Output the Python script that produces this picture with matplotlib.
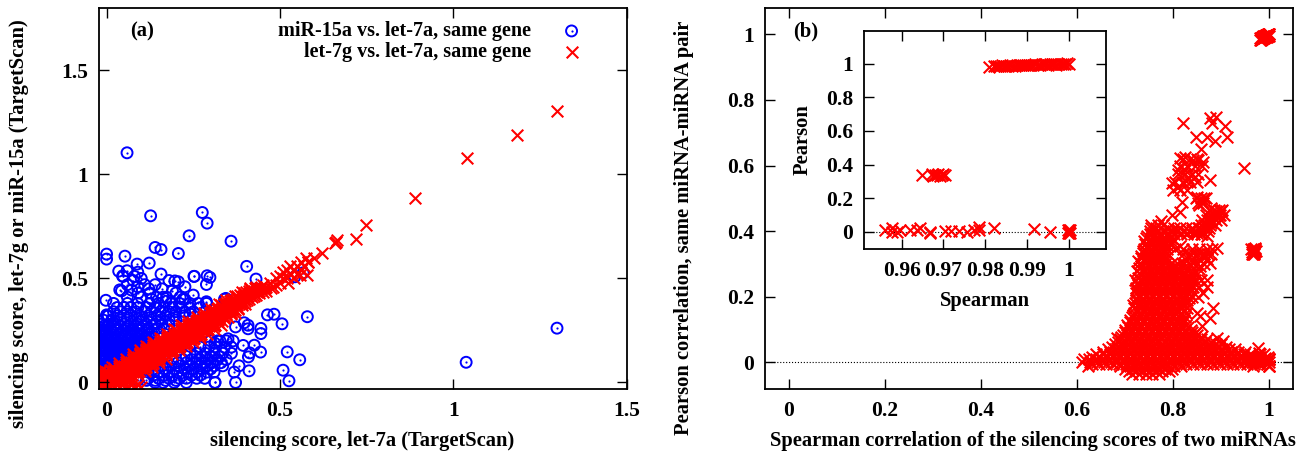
import matplotlib
matplotlib.use('Agg')
import matplotlib.pyplot as plt
from matplotlib.legend_handler import HandlerTuple

W, H = 1308, 454

# panel (a), blue: isolated circles
blue_x = [.059,.127,.276,.290,.238,.359,.140,.157,.207,.053,0,0,.404,.088,.123,.035,.059,.046,.157,.253,.29,.298,.288,.431,
          .464,.483,.506,.579,.521,.557,.509,.526,.411,.372,.313,.368,.382,.444,.409,.413,.426,.394,.445,.445,.408,.408,.397,.372,
          .567,.543,.344,.288,1.037,1.299,.18,.197,.207,.226,.252,.043,.038,.072,.122,.091,.144,.163,.173,.125,.226,.212,.25,.264,.288,-.002,0,.005,
          .08,.1,.048,.077,.09,.312,.327,.35,.34,.24,.27,
          .06,.09,.11,.14,.16,.19,.06,.1,.13,.17,.2,.22]
blue_y = [1.104,.801,.817,.766,.705,.679,.649,.639,.62,.607,.617,.593,.558,.569,.574,.535,.537,.511,.521,.51,.513,.505,.471,.497,
          .325,.328,.282,.316,.147,.109,.059,.008,.056,0,0,.05,.08,.146,.123,.142,.179,.178,.235,.26,.258,.275,.287,.267,
          .527,.508,.404,.388,.097,.261,.49,.488,.484,.46,.51,.44,.445,.444,.45,.43,.41,.41,.41,.43,.40,.41,.42,.38,.38,.395,.325,.32,
          .51,.5,.51,.49,.53,.189,.2,.21,.4,.33,.36,
          .47,.46,.47,.47,.45,.44,.41,.41,.40,.39,.43,.4]

# panel (a), blue: crowded part, one row per y level
blue_rows = [
    (.38, [.02,.06,.09,.125,.15,.185,.21,.24]),
    (.36, [.03,.05,.07,.09,.115,.14,.165,.19,.215,.24]),
    (.34, [.02,.04,.06,.085,.11,.13,.155,.18,.2,.225,.25]),
    (.32, [0,.03,.05,.07,.095,.12,.145,.17,.195,.22]),
    (.30, [-.01,.015,.04,.06,.085,.105,.13,.155,.18,.2]),
    (.28, [-.015,.005,.025,.05,.07,.09,.115,.14,.16,.18]),
    (.26, [-.015,.01,.03,.055,.075,.1,.12,.145,.165]),
    (.24, [-.02,0,.02,.04,.065,.085,.11,.13,.15]),
    (.22, [-.015,.01,.03,.05,.075,.095,.115,.135]),
    (.20, [-.02,0,.02,.04,.06,.08,.1,.12]),
    (.18, [-.015,.005,.025,.045,.065,.085,.105]),
    (.16, [-.02,0,.02,.04,.06,.08,.1]),
    (.14, [-.015,.005,.025,.045,.065,.085]),
    (.12, [-.02,0,.02,.04,.06,.08]),
    (.10, [-.015,.005,.025,.045]),
    (.08, [-.02,0,.02,.04]),
    # in-between rows, where the circles merge into a solid patch
    (.27, [-.01,.005,.02,.04,.065,.085,.105]),
    (.25, [-.02,-.005,.015,.03,.05,.07,.095,.115]),
    (.23, [-.02,-.005,.015,.035,.055,.07,.09,.105,.125]),
    (.21, [-.015,.005,.025,.045,.07,.09,.11]),
    (.19, [-.02,-.005,.015,.035,.055,.075,.095]),
    (.17, [-.015,.01,.03,.05,.07,.09]),
    (.15, [-.02,-.005,.015,.035,.055,.075]),
    (.13, [-.015,.01,.03,.05,.07]),
    (.11, [-.02,-.005,.015,.035,.055]),
    (.09, [-.015,.005,.025,.045]),
    (.07, [-.02,0,.02]),
    (.05, [.12,.15,.18,.205,.235,.26,.29,.31]),
    (.02, [.12,.15,.18,.21,.23,.26,.283]),
    (0, [.14,.163,.195,.23,.312]),
    (.08, [.16,.185,.21,.24,.27,.29,.31,.335]),
    (.11, [.19,.22,.245,.27,.295,.32,.345]),
    (.14, [.24,.26,.285,.31,.335,.36]),
    (.17, [.27,.295,.315,.34,.36]),
    (.20, [.30,.32,.345,.365]),
    (.065, [.17,.195,.225,.25,.275,.3]),
    (.095, [.205,.23,.26,.285,.305,.33]),
    (.125, [.23,.255,.275,.3,.325]),
    (.035, [.135,.165,.19,.22,.245,.27]),
    (.01, [.09,.115,.14,.17,.2]),
]

# panel (a), red: the points apart from the band
red_x = [1.299,1.184,1.038,.89,.748,.719,.661,.664,.659,.621,.5815,.597,.575,.524,.558,.578,
         .45,.46,.47,.48,.49,.49,.5,.5,.51,.51,.52,.52,.53,.53,.54,.54,.55,.55,.56,.56,.57,.58]
red_y = [1.303,1.189,1.078,.889,.755,.689,.676,.684,.669,.623,.58,.6,.6,.476,.516,.516,
         .47,.44,.48,.46,.5,.47,.51,.48,.53,.5,.5,.54,.52,.56,.54,.5,.56,.52,.58,.54,.56,.58]

# panel (a), red: the solid band along the diagonal
red_rows = [
    (-.02, [-.02,-.005,.01,.025,.04,.06,.08,.1]),
    (-.01, [-.015,0,.015,.03,.045,.07,.09]),
    (0, [-.02,-.01,.005,.02,.035,.05,.07]),
    (.01, [-.015,0,.01,.025,.04]),
    (.02, [-.015,0,.015,.03,.045,.06]),
    (.03, [-.01,.005,.02,.035,.05,.065]),
    (.04, [-.005,.01,.025,.04,.055,.07]),
    (.05, [-.02,0,.015,.03,.045,.06,.075,.09]),
    (.06, [-.015,.01,.025,.04,.055,.07,.085]),
    (.07, [.02,.035,.05,.065,.08,.095,.11]),
    (.08, [.035,.05,.065,.08,.095,.11]),
    (.09, [.04,.055,.07,.085,.10,.115,.13]),
    (.10, [.055,.07,.085,.10,.115,.13]),
    (.11, [.06,.075,.09,.105,.12,.135,.15]),
    (.12, [.075,.09,.105,.12,.135,.15]),
    (.13, [.08,.095,.11,.125,.14,.155,.17]),
    (.14, [.095,.11,.125,.14,.155,.17]),
    (.15, [.10,.115,.13,.145,.16,.175,.19]),
    (.16, [.115,.13,.145,.16,.175,.19]),
    (.17, [.12,.135,.15,.165,.18,.195,.21]),
    (.18, [.135,.15,.165,.18,.195,.21]),
    (.19, [.14,.155,.17,.185,.20,.215,.23]),
    (.20, [.155,.17,.185,.20,.215,.23]),
    (.21, [.16,.175,.19,.205,.22,.235,.25]),
    (.22, [.175,.19,.205,.22,.235,.25]),
    (.23, [.18,.195,.21,.225,.24,.255,.27]),
    (.24, [.195,.21,.225,.24,.255,.27]),
    (.25, [.20,.215,.23,.245,.26,.275,.29]),
    (.26, [.215,.23,.245,.26,.275,.29]),
    (.27, [.22,.235,.25,.265,.28,.295,.31]),
    (.28, [.235,.25,.265,.28,.295,.31]),
    (.29, [.245,.26,.275,.29,.305,.32]),
    (.30, [.26,.275,.29,.305,.32]),
    (.31, [.265,.28,.295,.31,.325,.34]),
    (.32, [.28,.295,.31,.325,.34]),
    (.33, [.285,.30,.315,.33,.345,.36]),
    (.34, [.30,.315,.33,.345,.36]),
    (.35, [.31,.325,.34,.355,.37]),
    (.36, [.32,.335,.35,.365,.38]),
    (.37, [.33,.345,.36,.375,.39]),
    (.38, [.345,.36,.375,.39]),
    (.39, [.355,.37,.385,.40]),
    (.40, [.365,.38,.395,.41]),
    (.41, [.375,.39,.405,.42]),
    (.42, [.385,.40,.415,.43]),
    (.43, [.395,.41,.425,.44]),
    (.44, [.41,.425,.44]),
    (.45, [.415,.43,.445]),
    (.46, [.43,.445,.46]),
    # second pass between the rows above, slightly wider
    (.015, [-.02,-.0075,.0075,.0225,.0375,.0525,.07]),
    (.035, [-.02,-.0025,.0125,.0275,.0425,.0575,.0725,.09]),
    (.055, [-.005,.0175,.0325,.0475,.0625,.0775,.0925,.11]),
    (.075, [.015,.0375,.0525,.0675,.0825,.0975,.1125,.13]),
    (.095, [.035,.0575,.0725,.0875,.1025,.1175,.1325,.15]),
    (.115, [.055,.0775,.0925,.1075,.1225,.1375,.1525,.17]),
    (.135, [.075,.0975,.1125,.1275,.1425,.1575,.1725,.19]),
    (.155, [.095,.1175,.1325,.1475,.1625,.1775,.1925,.21]),
    (.175, [.115,.1375,.1525,.1675,.1825,.1975,.2125,.23]),
    (.195, [.135,.1575,.1725,.1875,.2025,.2175,.2325,.25]),
    (.215, [.155,.1775,.1925,.2075,.2225,.2375,.2525,.27]),
    (.235, [.175,.1975,.2125,.2275,.2425,.2575,.2725,.29]),
    (.255, [.195,.2175,.2325,.2475,.2625,.2775,.2925,.31]),
    (.275, [.215,.2375,.2525,.2675,.2825,.2975,.3125,.33]),
    (.295, [.235,.2575,.2725,.2875,.3025,.3175,.3325]),
    (.315, [.26,.2775,.2925,.3075,.3225,.3375,.35]),
    (.335, [.28,.2975,.3125,.3275,.3425,.3575,.37]),
    (.355, [.30,.3175,.3325,.3475,.3625,.38]),
    (.375, [.325,.3375,.3525,.3675,.3825,.40]),
    (.395, [.345,.3575,.3725,.3875,.405]),
    (.415, [.37,.3775,.3925,.4075,.425]),
    (.435, [.39,.4025,.4175,.4325,.45]),
    (.455, [.415,.4275,.4425,.4575,.475]),
]

# panel (b): arms and isolated crosses
corr_x = [.8215,.877,.889,.8806,.908,.912,.8875,.8715,.848,.858,.863,.948,.825,.815,.811,.825,.842,.853,.877,.846,.832,.8215,.797,.81,.828,
          .818,.815,.797,.775,.85,.86,.855,.865,.88,.89,.895,.885,.875,.9,.865,.88,
          .79,.80,.81,.82,.83,.84,.85,.86,.87,.855,
          .842,.863,.891,.877,.856,.842,.814,.794,.822,.808,.832,.842,.856,.873,
          .962,.967,.97,.965,.973,.968,
          .87,.8625,.883,.877,.856,.85,.86,.891,.905,.978,.683,.61,.615,.623]
corr_y = [.7286,.744,.749,.7287,.7215,.686,.675,.688,.686,.65,.61,.592,.627,.624,.587,.587,.617,.617,.556,.566,.562,.546,.546,.536,.552,
          .49,.458,.45,.43,.505,.49,.48,.50,.47,.46,.45,.44,.435,.46,.42,.425,
          .395,.40,.405,.40,.395,.405,.395,.39,.385,.41,
          .333,.322,.348,.302,.293,.272,.354,.363,.303,.282,.323,.303,.333,.329,
          .345,.335,.35,.33,.34,.34,
          .231,.211,.166,.135,.14,.15,.11,.074,.064,.044,.074,0,.01,-.01]

# panel (b): thick parts of the arms, added by row
arm_rows = [
    (.62, [.82,.835,.85]),
    (.60, [.815,.83,.845,.86]),
    (.575, [.81,.825,.84,.852]),
    (.55, [.805,.82,.835,.85]),
    (.525, [.80,.815,.83]),
    (.50, [.848,.858,.868]),
    (.485, [.852,.862]),
    (.465, [.875,.885,.895,.903]),
    (.45, [.868,.878,.888,.898,.906]),
    (.435, [.86,.87,.88,.89,.9]),
    (.42, [.755,.768,.78,.858,.868,.878,.888]),
    (.41, [.79,.802,.815,.828,.84,.852,.864,.876]),
    (.40, [.78,.795,.807,.82,.834,.846,.86,.872]),
    (.39, [.775,.79,.803,.816,.83,.844,.858]),
    (.345, [.805,.82,.84,.855,.87,.882]),
    (.33, [.82,.835,.85,.865,.88]),
    (.315, [.825,.84,.855,.87]),
    (.30, [.81,.82,.835,.85,.865]),
    (.285, [.815,.828,.842,.855]),
    (.27, [.825,.838,.85]),
    (.25, [.845,.858,.87]),
    (.23, [.842,.855]),
    (.20, [.84,.852]),
]

# panel (b): the solid mass, one row per y level
mass_rows = [
    (.41, [.755,.765]),
    (.40, [.752,.766]),
    (.392, [.7515,.7635,.7755,.7875]),
    (.385, [.745,.759,.773,.787]),
    (.378, [.7435,.7555,.7695,.7835,.7965]),
    (.37, [.74,.754,.768,.782,.796]),
    (.362, [.7415,.7535,.7675,.7815,.7955]),
    (.355, [.747,.761,.775,.789]),
    (.347, [.7395,.7485,.7625,.7765,.7885]),
    (.34, [.738,.752,.766,.78]),
    (.332, [.7375,.7485,.7625,.7765,.7865]),
    (.325, [.733,.747,.761,.775]),
    (.317, [.7335,.7435,.7575,.7715,.7835]),
    (.31, [.728,.742,.756,.77,.784]),
    (.302, [.7305,.7435,.7575,.7715,.7855,.7985]),
    (.295, [.733,.747,.761,.775,.789,.803]),
    (.287, [.7295,.7435,.7575,.7715,.7855,.7995,.8105]),
    (.28, [.726,.74,.754,.768,.782,.796,.81]),
    (.272, [.7295,.7435,.7575,.7715,.7855,.7995,.8135,.8235]),
    (.265, [.733,.747,.761,.775,.789,.803,.817]),
    (.257, [.7265,.7435,.7575,.7715,.7855,.7995,.8135,.8275,.8375]),
    (.25, [.72,.734,.748,.762,.776,.79,.804,.818,.832]),
    (.242, [.7255,.7375,.7515,.7655,.7795,.7935,.8075,.8215,.8355,.8435]),
    (.235, [.727,.741,.755,.769,.783,.797,.811,.825,.838]),
    (.227, [.7235,.7375,.7515,.7655,.7795,.7935,.8075,.8215,.8355]),
    (.22, [.722,.736,.75,.764,.778,.792,.806,.82,.834]),
    (.212, [.7235,.7375,.7515,.7655,.7795,.7935,.8075,.8215,.8335]),
    (.205, [.729,.743,.757,.771,.785,.799,.813,.827]),
    (.197, [.7235,.7375,.7515,.7655,.7795,.7935,.8075,.8215,.8335]),
    (.19, [.722,.736,.75,.764,.778,.792,.806,.82,.83]),
    (.182, [.7215,.7335,.7475,.7615,.7755,.7895,.8035,.8175,.8295]),
    (.175, [.717,.731,.745,.759,.773,.787,.801,.815,.825]),
    (.167, [.7195,.7335,.7475,.7615,.7755,.7895,.8035,.8175,.8295]),
    (.16, [.724,.738,.752,.766,.78,.794,.808,.822]),
    (.152, [.7195,.7335,.7475,.7615,.7755,.7895,.8035,.8175,.8275]),
    (.145, [.717,.731,.745,.759,.773,.787,.801,.815]),
    (.137, [.7155,.7295,.7435,.7575,.7715,.7855,.7995,.8135,.8255]),
    (.13, [.71,.724,.738,.752,.766,.78,.794,.808,.822]),
    (.122, [.7105,.7235,.7375,.7515,.7655,.7795,.7935,.8075,.8215]),
    (.115, [.705,.719,.733,.747,.761,.775,.789,.803,.817,.827]),
    (.107, [.7055,.7195,.7335,.7475,.7615,.7755,.7895,.8035,.8175,.8315]),
    (.10, [.70,.714,.728,.742,.756,.77,.784,.798,.812,.826,.838]),
    (.092, [.6995,.7135,.7275,.7415,.7555,.7695,.7835,.7975,.8115,.8255,.8395,.8485]),
    (.085, [.695,.709,.723,.737,.751,.765,.779,.793,.807,.821,.835,.849]),
    (.077, [.692,.706,.72,.734,.748,.762,.776,.79,.804,.818,.832,.846,.858]),
    (.07, [.69,.704,.718,.732,.746,.76,.774,.788,.802,.816,.83,.844,.858,.87]),
    (.062, [.685,.699,.713,.727,.741,.755,.769,.783,.797,.811,.825,.839,.853,.867,.88]),
    (.055, [.68,.694,.708,.722,.736,.75,.764,.778,.792,.806,.82,.834,.848,.862,.876,.89,.9]),
    (.047, [.672,.686,.7,.714,.728,.742,.756,.77,.784,.798,.812,.826,.84,.854,.868,.882,.896,.91]),
    (.04, [.665,.679,.693,.707,.721,.735,.749,.763,.777,.791,.805,.819,.833,.847,.861,.875,.889,.903,.917,.93]),
    (.032, [.655,.669,.683,.697,.711,.725,.739,.753,.767,.781,.795,.809,.823,.837,.851,.865,.879,.893,.907,.921,.935,.949]),
    (.025, [.64,.654,.668,.682,.696,.71,.724,.738,.752,.766,.78,.794,.808,.822,.836,.85,.864,.878,.892,.906,.92,.934,.948,.96,.99]),
    (.017, [.632,.646,.66,.674,.688,.702,.716,.73,.744,.758,.772,.786,.8,.814,.828,.842,.856,.87,.884,.898,.912,.926,.94,.954,.968,.982,.998]),
    (.01, [.625,.639,.653,.667,.681,.695,.709,.723,.737,.751,.765,.779,.793,.807,.821,.835,.849,.863,.877,.891,.905,.919,.933,.947,.961,.975,.989,1.0]),
    (.002, [.628,.642,.656,.67,.684,.698,.712,.726,.74,.754,.768,.782,.796,.81,.824,.838,.852,.866,.88,.894,.908,.922,.936,.95,.964,.978,.992]),
    (-.005, [.632,.646,.66,.674,.688,.702,.716,.73,.744,.758,.772,.786,.8,.814,.828,.842,.856,.87,.884,.898,.912,.926,.94,.954,.968,.982,.996]),
    (-.012, [.69,.704,.718,.732,.746,.76,.774,.788,.802,.816]),
    (-.02, [.70,.714,.728,.742,.756,.77,.784,.798]),
    (-.027, [.708,.722,.736,.75,.764,.778,.792]),
    (-.035, [.715,.729,.743,.757,.771]),
]

# the group near (1, 1) in panel (b) and its enlargement in the inset
top_x = [.981,.982,.983,.984,.985,.986,.987,.988,.989,.99,.991,.992,.993,.994,.995,.996,.997,.998,.999,1.0,.9995,.9985,.9975,.9965,.9955,.9945,.9935,.9925,.9915,.9905,.9895,.9885,.9875,.9865,.9855,.9845,.9835,.9825]
top_y = [.982,.988,.984,.99,.986,.992,.988,.994,.99,.995,.991,.996,.992,.997,.993,.998,.994,.999,.996,1.0,1.002,1.001,1.0,.999,.998,.997,.996,.995,.994,.993,.992,.991,.99,.989,.988,.987,.986,.985]
mid_x = [.9648,.9672,.9676,.968,.9684,.9688,.9692,.9696,.97,.9704]
mid_y = [.337,.345,.33,.34,.335,.345,.33,.338,.345,.34]
low_x = [.956,.9576,.9576,.9588,.9596,.962,.9636,.9644,.9668,.9668,.9704,.9717,.9736,.9757,.9772,.9784,.9784,.982,.9917,.9955,1,1,1,.9998,1.0002,.9998,1.0002]
low_y = [.01,.02,.0,.0,.01,.01,.01,.02,0,-.01,.005,.005,.005,0,.01,.03,.01,.025,.014,-.004,0,.01,-.01,.01,.01,-.01,-.01]


def from_rows(rows):
    xs, ys = [], []
    for y, row in rows:
        for x in row:
            xs.append(x)
            ys.append(y)
    return xs, ys


def add_axes(left, right, top, bottom):
    return fig.add_axes([left / W, 1 - bottom / H, (right - left) / W, (bottom - top) / H])


def style(ax):
    for s in ax.spines.values():
        s.set_linewidth(1.3)
    ax.tick_params(direction='in', top=True, right=True, length=7.5, width=1.0, labelsize=15.5)
    ax.tick_params(axis='x', pad=9)
    ax.tick_params(axis='y', pad=8)


def label(px, py, s, rotation=0, size=14.8):
    fig.text(px / W, 1 - py / H, s, rotation=rotation, fontsize=size, ha='center', va='center')


plt.rcParams['font.family'] = ['Liberation Serif', 'DejaVu Serif']
plt.rcParams['font.weight'] = 'bold'

fig = plt.figure(figsize=(W / 100, H / 100), dpi=100)

# panel (a)
ax = add_axes(99.3, 626.7, 8, 388.7)
bx, by = from_rows(blue_rows)
bx += blue_x
by += blue_y
rx, ry = from_rows(red_rows)
rx += red_x
ry += red_y
circles = ax.scatter(bx, by, s=62, facecolors='none', edgecolors='#0000ff', linewidths=1.4)
dots = ax.scatter(bx, by, s=2.5, color='#0000ff', linewidths=0)
crosses = ax.scatter(rx, ry, s=70, marker='x', color='#ff0000', linewidths=1.5)
ax.set_xlim(-.021, 1.5)
ax.set_ylim(-.03, 1.8)
ax.set_xticks([0, .5, 1, 1.5], ['0', '0.5', '1', '1.5'])
ax.set_yticks([0, .5, 1, 1.5], ['0', '0.5', '1', '1.5'])
style(ax)
ax.legend([(circles, dots), crosses],
          ['miR-15a vs. let-7a, same gene', 'let-7g vs. let-7a, same gene'],
          handler_map={tuple: HandlerTuple(ndivide=1, pad=0)},
          loc='upper right', bbox_to_anchor=(0.947, 0.997), frameon=False, markerfirst=False,
          fontsize=14.5, labelspacing=.06, handlelength=1.5, handletextpad=1.25, borderaxespad=.4, borderpad=.2)
label(142, 31, '(a)')
label(362, 441, 'silencing score, let-7a (TargetScan)')
label(19, 224, 'silencing score, let-7g or miR-15a (TargetScan)', rotation=90)

# panel (b)
ax = add_axes(765, 1293, 8, 388.7)
cx, cy = from_rows(mass_rows)
ax_, ay_ = from_rows(arm_rows)
cx += ax_ + corr_x + top_x + mid_x + low_x
cy += ay_ + corr_y + top_y + mid_y + low_y
ax.axhline(0, color='k', ls=':', lw=.8, zorder=1)
ax.scatter(cx, cy, s=70, marker='x', color='#ff0000', linewidths=1.5, zorder=2)
ax.set_xlim(-.05, 1.05)
ax.set_ylim(-.08, 1.08)
ax.set_xticks([0, .2, .4, .6, .8, 1], ['0', '0.2', '0.4', '0.6', '0.8', '1'])
ax.set_yticks([0, .2, .4, .6, .8, 1], ['0', '0.2', '0.4', '0.6', '0.8', '1'])
style(ax)
label(806, 31, '(b)')
label(1033, 441, 'Spearman correlation of the silencing scores of two miRNAs')
label(684, 228, 'Pearson correlation, same miRNA-miRNA pair', rotation=90)

# inset
ins = add_axes(864, 1105.7, 31, 249)
ins.axhline(0, color='k', ls=':', lw=.8, zorder=1)
ins.scatter(top_x + mid_x + low_x, top_y + mid_y + low_y, s=70, marker='x', color='#ff0000', linewidths=1.5, zorder=2)
ins.set_xlim(.951, 1.0088)
ins.set_ylim(-.103, 1.195)
ins.set_xticks([.96, .97, .98, .99, 1], ['0.96', '0.97', '0.98', '0.99', '1'])
ins.set_yticks([0, .2, .4, .6, .8, 1], ['0', '0.2', '0.4', '0.6', '0.8', '1'])
style(ins)
label(985, 301, 'Spearman')
label(803, 140, 'Pearson', rotation=90)

fig.savefig('out.png', dpi=100)
